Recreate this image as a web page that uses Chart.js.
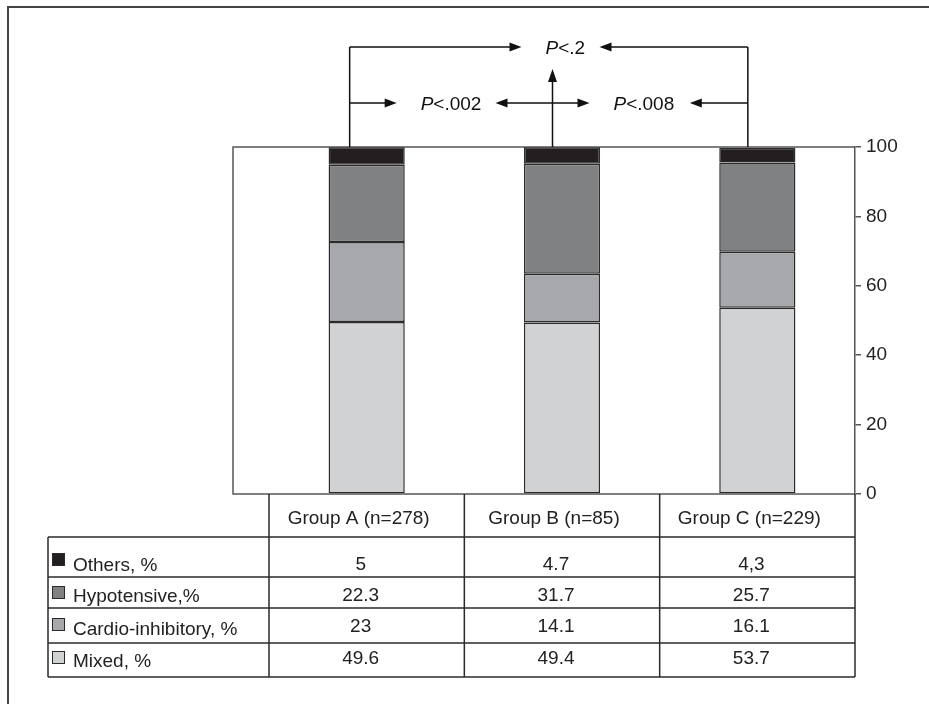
<!DOCTYPE html>
<html>
<head>
<meta charset="utf-8">
<script src="https://cdn.jsdelivr.net/npm/chart.js@4.4.0/dist/chart.umd.min.js"></script>
<style>
  html, body { margin: 0; padding: 0; background: #fff; }
</style>
</head>
<body>
<canvas id="chart" width="929" height="704"></canvas>
<script>
const groups = ['Group A (n=278)', 'Group B (n=85)', 'Group C (n=229)'];
const mixed = [49.6, 49.4, 53.7];
const cardio = [23, 14.1, 16.1];
const hypotensive = [22.3, 31.7, 25.7];
const others = [5, 4.7, 4.3];
const yTicks = [0, 20, 40, 60, 80, 100];

// table rows as printed, top to bottom (the "4,3" is in the original)
const rowNames = ['Others, %', 'Hypotensive,%', 'Cardio-inhibitory, %', 'Mixed, %'];
const rowText = [
    ['5', '4.7', '4,3'],
    ['22.3', '31.7', '25.7'],
    ['23', '14.1', '16.1'],
    ['49.6', '49.4', '53.7']
];
const rowColors = ['#231f20', '#808183', '#a7a8ab', '#d1d2d4'];
const pLabels = ['<.2', '<.002', '<.008'];

const FONT = "'Liberation Sans', Arial, sans-serif";

function arrowHead(ctx, x, y, dir) {
    // dir: 'r', 'l', 'u'
    ctx.beginPath();
    if (dir === 'r') { ctx.moveTo(x, y); ctx.lineTo(x - 12, y - 4.5); ctx.lineTo(x - 12, y + 4.5); }
    if (dir === 'l') { ctx.moveTo(x, y); ctx.lineTo(x + 12, y - 4.5); ctx.lineTo(x + 12, y + 4.5); }
    if (dir === 'u') { ctx.moveTo(x, y); ctx.lineTo(x - 4.5, y + 13); ctx.lineTo(x + 4.5, y + 13); }
    ctx.closePath();
    ctx.fill();
}

function line(ctx, x1, y1, x2, y2) {
    ctx.beginPath();
    ctx.moveTo(x1, y1);
    ctx.lineTo(x2, y2);
    ctx.stroke();
}

function pText(ctx, x, y, rest) {
    ctx.textAlign = 'left';
    ctx.textBaseline = 'alphabetic';
    ctx.font = 'italic 19px ' + FONT;
    ctx.fillText('P', x, y);
    const w = ctx.measureText('P').width;
    ctx.font = '19px ' + FONT;
    ctx.fillText(rest, x + w, y);
}

const extras = {
    id: 'extras',
    beforeDraw(chart) {
        const ctx = chart.ctx;
        ctx.save();
        ctx.fillStyle = '#fff';
        ctx.fillRect(0, 0, chart.width, chart.height);
        ctx.restore();
    },
    beforeDatasetsDraw(chart) {
        const ctx = chart.ctx;
        const a = chart.chartArea;
        ctx.save();
        ctx.strokeStyle = '#555';
        ctx.lineWidth = 1.5;
        // plot box reaches further left than the category columns
        ctx.beginPath();
        ctx.moveTo(a.right, a.top);
        ctx.lineTo(a.left - 36, a.top);
        ctx.lineTo(a.left - 36, a.bottom);
        ctx.lineTo(a.right, a.bottom);
        ctx.stroke();
        ctx.restore();
    },
    afterDraw(chart) {
        const ctx = chart.ctx;
        const a = chart.chartArea;
        const x = chart.scales.x;
        ctx.save();

        // outer frame (only left and top edges are visible)
        ctx.strokeStyle = '#444';
        ctx.lineWidth = 2;
        ctx.beginPath();
        ctx.moveTo(8, chart.height);
        ctx.lineTo(8, 7);
        ctx.lineTo(chart.width, 7);
        ctx.stroke();

        // table under the plot
        const colW = (x.right - x.left) / groups.length;
        const bounds = [];
        for (let i = 0; i <= groups.length; i++) bounds.push(x.left + i * colW);
        const headBottom = a.bottom + 43;
        const rowLines = [headBottom, headBottom + 40, headBottom + 71, headBottom + 106, headBottom + 140];
        const tableLeft = 48;

        ctx.strokeStyle = '#2a2a2a';
        ctx.lineWidth = 1.5;
        bounds.forEach(b => line(ctx, b, a.bottom, b, rowLines[4]));
        rowLines.forEach(y => line(ctx, tableLeft, y, x.right, y));
        line(ctx, tableLeft, rowLines[0], tableLeft, rowLines[4]);

        ctx.fillStyle = '#222';
        ctx.font = '19px ' + FONT;
        ctx.textAlign = 'center';
        ctx.textBaseline = 'alphabetic';
        groups.forEach((g, i) => ctx.fillText(g, x.getPixelForValue(i) - 8, a.bottom + 30));

        const valBase = [33, 24, 24, 21];
        const nameBase = [34, 25, 27, 24];
        const boxTop = [16, 9, 10, 8];
        for (let r = 0; r < rowNames.length; r++) {
            const top = rowLines[r];
            ctx.textAlign = 'center';
            ctx.fillStyle = '#222';
            rowText[r].forEach((t, i) => ctx.fillText(t, x.getPixelForValue(i) - 6, top + valBase[r]));
            ctx.textAlign = 'left';
            ctx.fillText(rowNames[r], 73, top + nameBase[r]);
            ctx.fillStyle = rowColors[r];
            ctx.fillRect(52, top + boxTop[r], 12, 12);
            ctx.strokeStyle = '#2a2a2a';
            ctx.lineWidth = 1;
            ctx.strokeRect(52.5, top + boxTop[r] + 0.5, 12, 12);
        }

        // significance brackets above the bars
        const xA = x.getPixelForValue(0) - 17;
        const xB = x.getPixelForValue(1) - 9.5;
        const xC = x.getPixelForValue(2) - 9.5;
        const yTop = 47, yMid = 103;
        ctx.strokeStyle = '#111';
        ctx.fillStyle = '#111';
        ctx.lineWidth = 1.5;
        line(ctx, xA, a.top, xA, yTop);
        line(ctx, xC, a.top, xC, yTop);
        line(ctx, xA, yTop, xB - 40, yTop);
        arrowHead(ctx, xB - 31, yTop, 'r');
        line(ctx, xC, yTop, xB + 56, yTop);
        arrowHead(ctx, xB + 47, yTop, 'l');
        pText(ctx, xB - 7, yTop + 7, pLabels[0]);

        line(ctx, xA, yMid, xA + 38, yMid);
        arrowHead(ctx, xA + 47, yMid, 'r');
        pText(ctx, xA + 71, yMid + 7, pLabels[1]);
        line(ctx, xB - 48, yMid, xB + 28, yMid);
        arrowHead(ctx, xB - 57, yMid, 'l');
        arrowHead(ctx, xB + 37, yMid, 'r');
        pText(ctx, xB + 61, yMid + 7, pLabels[2]);
        line(ctx, xC, yMid, xC - 49, yMid);
        arrowHead(ctx, xC - 58, yMid, 'l');
        line(ctx, xB, a.top, xB, 80);
        arrowHead(ctx, xB, 69, 'u');

        ctx.restore();
    }
};

const barStyle = {
    borderColor: '#2b2b2b',
    borderWidth: 1.5,
    borderSkipped: false,
    barPercentage: 0.39,
    categoryPercentage: 1.0
};

new Chart(document.getElementById('chart'), {
    type: 'bar',
    data: {
        labels: groups,
        datasets: [
            Object.assign({ label: 'Mixed, %', data: mixed, backgroundColor: '#d1d2d4' }, barStyle),
            Object.assign({ label: 'Cardio-inhibitory, %', data: cardio, backgroundColor: '#a7a8ab' }, barStyle),
            Object.assign({ label: 'Hypotensive,%', data: hypotensive, backgroundColor: '#808183' }, barStyle),
            Object.assign({ label: 'Others, %', data: others, backgroundColor: '#231f20' }, barStyle)
        ]
    },
    options: {
        responsive: false,
        animation: false,
        devicePixelRatio: 1,
        layout: { padding: { left: 269, top: 147, right: 0, bottom: 210 } },
        plugins: { legend: { display: false }, tooltip: { enabled: false } },
        scales: {
            x: { stacked: true, display: false },
            y: {
                stacked: true,
                position: 'right',
                min: 0,
                max: 100,
                afterBuildTicks: s => { s.ticks = yTicks.map(v => ({ value: v })); },
                afterFit: s => { s.width = 74; },
                grid: { drawOnChartArea: false, drawTicks: true, tickLength: 6, color: '#555', lineWidth: 1.5 },
                border: { display: true, color: '#555', width: 1.5 },
                ticks: { padding: 5, color: '#222', font: { family: FONT, size: 19 } }
            }
        }
    },
    plugins: [extras]
});
</script>
</body>
</html>
